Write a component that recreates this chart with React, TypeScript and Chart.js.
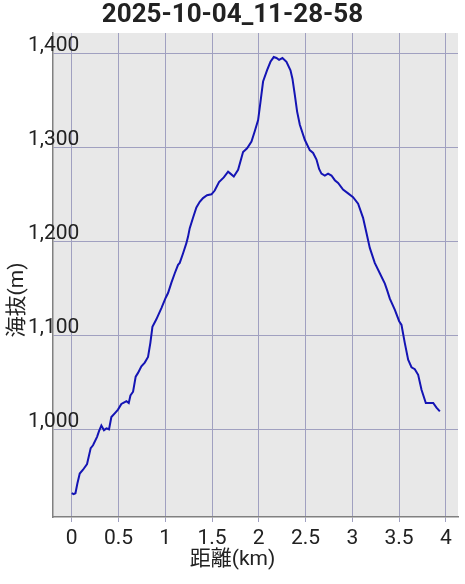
import { useEffect, useRef } from 'react';
import { Chart, registerables } from 'chart.js';

Chart.register(...registerables);

const chartTitle = '2025-10-04_11-28-58';
const xAxisTitle = '距離(km)';
const yAxisTitle = '海抜(m)';

const distanceKm = [
  0.0, 0.02, 0.04, 0.06, 0.086, 0.121, 0.164, 0.203, 0.228, 0.271, 0.292, 0.317, 0.345, 0.371, 0.399,
  0.424, 0.46, 0.495, 0.531, 0.567, 0.585, 0.61, 0.628, 0.656, 0.684, 0.709, 0.745, 0.781, 0.816, 0.841,
  0.863, 0.905, 0.959, 1.005, 1.03, 1.066, 1.102, 1.137, 1.155, 1.19, 1.226, 1.244, 1.262, 1.297, 1.333,
  1.369, 1.404, 1.447, 1.494, 1.529, 1.575, 1.626, 1.672, 1.697, 1.733, 1.779, 1.832, 1.875, 1.922, 1.957,
  1.993, 2.018, 2.046, 2.089, 2.125, 2.16, 2.189, 2.217, 2.253, 2.296, 2.339, 2.36, 2.385, 2.41, 2.439,
  2.492, 2.545, 2.581, 2.617, 2.645, 2.67, 2.706, 2.741, 2.777, 2.813, 2.848, 2.901, 2.955, 3.008, 3.062,
  3.115, 3.151, 3.187, 3.24, 3.294, 3.348, 3.372, 3.401, 3.455, 3.501, 3.526, 3.561, 3.597, 3.633, 3.668,
  3.704, 3.74, 3.786, 3.829, 3.865, 3.9, 3.936,
];

const elevationM = [
  932, 931, 932, 942, 953, 957, 963, 980, 983, 992, 998, 1004, 999, 1001, 1000,
  1013, 1017, 1021, 1027, 1029, 1030, 1028, 1036, 1040, 1056, 1060, 1067, 1071, 1077, 1092,
  1109, 1117, 1129, 1140, 1145, 1156, 1166, 1175, 1177, 1187, 1198, 1205, 1214, 1225, 1236,
  1242, 1246, 1249, 1250, 1254, 1263, 1268, 1274, 1272, 1269, 1276, 1295, 1299, 1306, 1317,
  1329, 1348, 1370, 1382, 1391, 1396, 1395, 1393, 1395, 1391, 1382, 1373, 1356, 1338, 1324,
  1308, 1297, 1294, 1287, 1277, 1272, 1270, 1272, 1270, 1265, 1262, 1255, 1251, 1247, 1240,
  1225, 1209, 1193, 1177, 1166, 1155, 1148, 1139, 1127, 1115, 1111, 1092, 1074, 1066, 1064,
  1058, 1042, 1028, 1028, 1028, 1023, 1019,
];

const xTickValues = [0, 0.5, 1, 1.5, 2, 2.5, 3, 3.5, 4];
const yTickValues = [1000, 1100, 1200, 1300, 1400];

const FONT = 'Roboto, "Noto Sans CJK JP", sans-serif';

export default function App() {
  const ref = useRef<HTMLCanvasElement>(null);

  useEffect(() => {
    const canvas = ref.current;
    if (!canvas) return;

    const bgPlugin = {
      id: 'plotBg',
      beforeDraw(chart: any) {
        const { ctx, chartArea: a } = chart;
        ctx.save();
        ctx.fillStyle = '#e8e8e8';
        ctx.fillRect(a.left, a.top, a.right - a.left, a.bottom - a.top);
        ctx.restore();
      },
    };

    const textPlugin = {
      id: 'texts',
      afterDraw(chart: any) {
        const { ctx } = chart;
        ctx.save();
        ctx.fillStyle = '#222';
        ctx.textAlign = 'center';
        ctx.textBaseline = 'alphabetic';
        ctx.font = `bold 26px ${FONT}`;
        ctx.fillText(chartTitle, chart.width / 2, 22);
        ctx.font = `21px ${FONT}`;
        ctx.fillText(xAxisTitle, chart.width / 2, chart.height - 19);
        ctx.translate(23, 300);
        ctx.rotate(-Math.PI / 2);
        ctx.fillText(yAxisTitle, 0, 0);
        ctx.restore();
      },
    };

    const chart = new Chart(canvas, {
      type: 'line',
      data: {
        datasets: [
          {
            data: distanceKm.map((d, i) => ({ x: d, y: elevationM[i] })),
            borderColor: '#1414b4',
            borderWidth: 2,
            pointRadius: 0,
            tension: 0,
            fill: false,
          },
        ],
      },
      options: {
        responsive: false,
        maintainAspectRatio: false,
        animation: false,
        layout: { padding: { top: 33, right: 7, left: 0, bottom: 0 } },
        plugins: {
          legend: { display: false },
          tooltip: { enabled: false },
          title: { display: false },
        },
        scales: {
          x: {
            type: 'linear',
            min: -0.2,
            max: 4.13,
            afterBuildTicks: (s: any) => {
              s.ticks = xTickValues.map((v) => ({ value: v }));
            },
            afterFit: (s: any) => {
              s.height = 67;
            },
            grid: { color: '#a0a0c0', lineWidth: 1, tickLength: 5, drawTicks: true },
            border: { display: true, color: '#808080', width: 1.5 },
            ticks: {
              font: { family: FONT, size: 21 },
              color: '#222',
              padding: 4,
              maxRotation: 0,
              autoSkip: false,
              callback: (v: any) => String(v),
            },
          },
          y: {
            type: 'linear',
            min: 906.7,
            max: 1421.6,
            afterBuildTicks: (s: any) => {
              s.ticks = yTickValues.map((v) => ({ value: v }));
            },
            afterFit: (s: any) => {
              s.width = 53;
            },
            grid: { color: '#a0a0c0', lineWidth: 1, drawTicks: false },
            border: { display: true, color: '#808080', width: 1.5 },
            ticks: {
              font: { family: FONT, size: 21 },
              color: '#222',
              mirror: true,
              padding: -25,
              labelOffset: -8,
              autoSkip: false,
              callback: (v: any) => Number(v).toLocaleString('en-US'),
            },
          },
        },
      },
      plugins: [bgPlugin, textPlugin],
    });

    return () => chart.destroy();
  }, []);

  return (
    <div style={{ position: 'absolute', left: 0, top: 0, width: 465, height: 584, background: '#fff' }}>
      <canvas ref={ref} width={465} height={584} style={{ display: 'block' }} />
    </div>
  );
}
